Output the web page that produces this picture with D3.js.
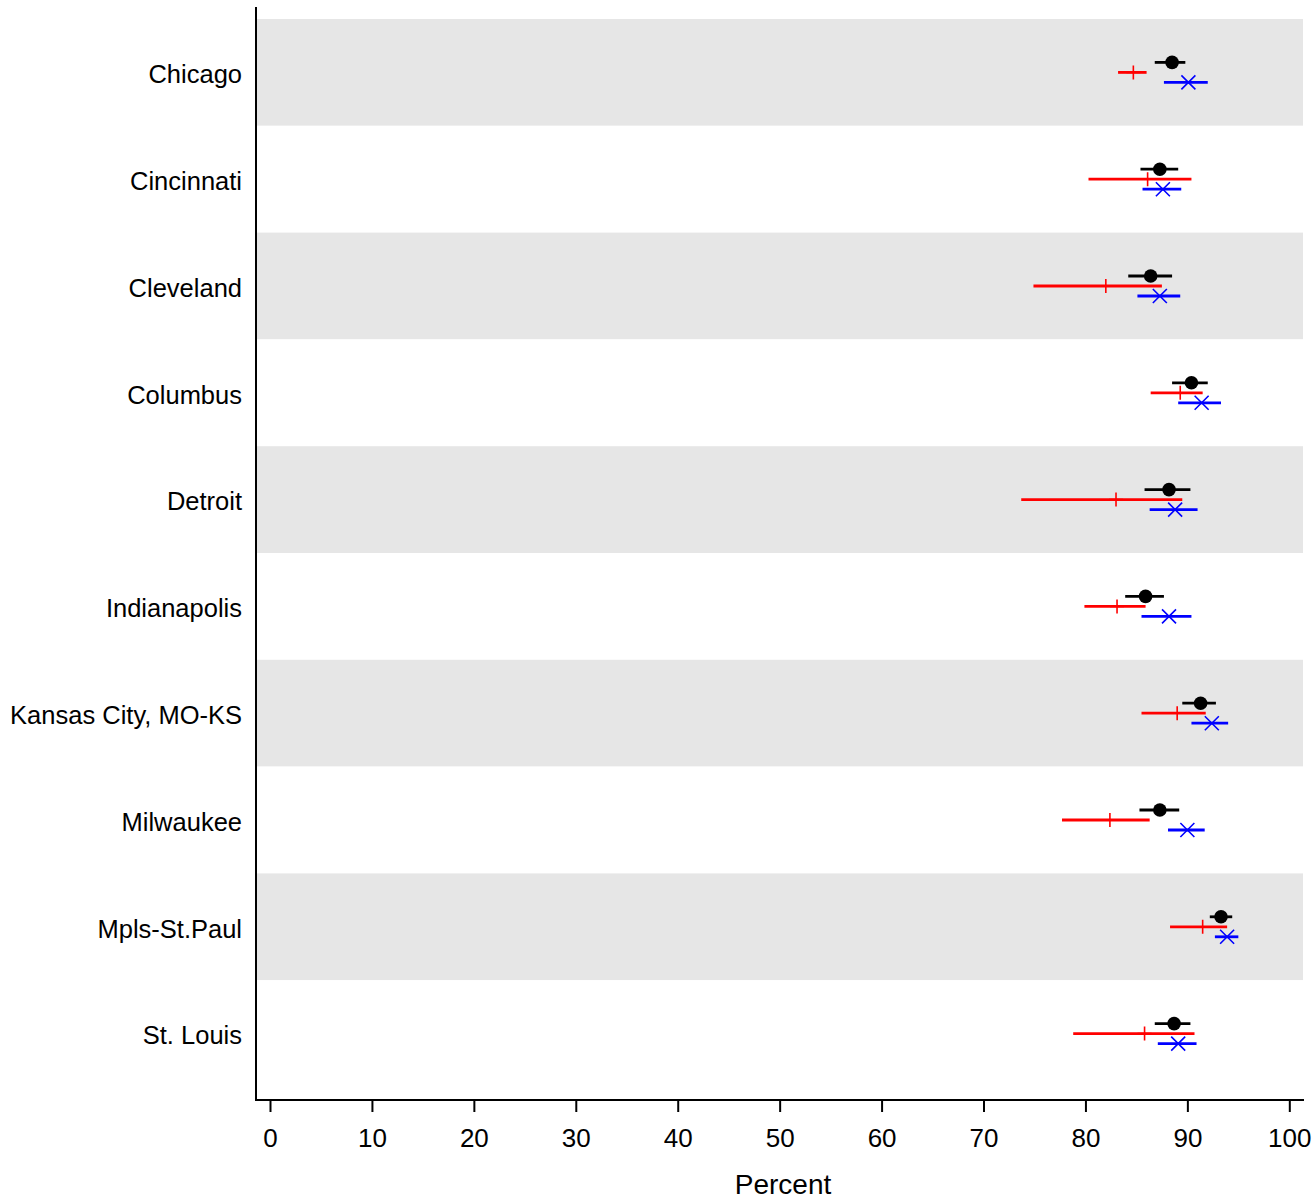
<!DOCTYPE html>
<html>
<head>
<meta charset="utf-8">
<script src="https://cdn.jsdelivr.net/npm/d3@7"></script>
<style>
  html, body { margin: 0; padding: 0; background: #fff; }
  svg { display: block; }
  text { font-family: "Liberation Sans", Arial, Helvetica, sans-serif; fill: #000; }
</style>
</head>
<body>
<svg id="chart" width="1316" height="1201"></svg>
<script>
const categories = ["Chicago","Cincinnati","Cleveland","Columbus","Detroit","Indianapolis","Kansas City, MO-KS","Milwaukee","Mpls-St.Paul","St. Louis"];

// black series: estimate, lower, upper
const blackEst = [88.5, 87.3, 86.4, 90.4, 88.2, 85.9, 91.3, 87.3, 93.3, 88.7];
const blackLo  = [86.8, 85.4, 84.2, 88.5, 85.8, 83.9, 89.5, 85.3, 92.2, 86.8];
const blackHi  = [89.8, 89.1, 88.5, 92.0, 90.3, 87.7, 92.8, 89.2, 94.4, 90.3];

// red series
const redEst = [84.7, 86.1, 82.0, 89.3, 83.0, 83.1, 89.0, 82.4, 91.5, 85.8];
const redLo  = [83.2, 80.3, 74.9, 86.4, 73.7, 79.9, 85.5, 77.7, 88.3, 78.8];
const redHi  = [86.0, 90.4, 87.5, 91.5, 89.5, 85.9, 91.8, 86.3, 93.9, 90.7];

// blue series
const blueEst = [90.1, 87.6, 87.3, 91.4, 88.8, 88.2, 92.4, 90.0, 93.9, 89.1];
const blueLo  = [87.7, 85.6, 85.1, 89.1, 86.3, 85.5, 90.4, 88.1, 92.7, 87.1];
const blueHi  = [92.0, 89.4, 89.3, 93.3, 91.0, 90.4, 94.0, 91.7, 95.0, 90.9];

const xTicks = [0,10,20,30,40,50,60,70,80,90,100];
const xTitle = "Percent";

const svg = d3.select("#chart");

const axisX = 256, plotRight = 1303, plotTop = 19, plotBottom = 1087, axisY = 1100;

const x = d3.scaleLinear().domain([0, 100]).range([270, 1289.3]);
const y = d3.scaleBand().domain(categories).range([plotTop, plotBottom]).paddingInner(0).paddingOuter(0);

// alternating bands
svg.append("g").selectAll("rect")
  .data(categories)
  .join("rect")
  .attr("x", axisX + 1)
  .attr("y", d => y(d))
  .attr("width", plotRight - axisX - 1)
  .attr("height", y.bandwidth())
  .attr("fill", (d, i) => i % 2 === 0 ? "#e6e6e6" : "#ffffff");

// series data
const series = [
  {name: "black", est: blackEst, lo: blackLo, hi: blackHi, color: "#000000", off: -10, marker: "dot"},
  {name: "red", est: redEst, lo: redLo, hi: redHi, color: "#ff0000", off: 0, marker: "plus"},
  {name: "blue", est: blueEst, lo: blueLo, hi: blueHi, color: "#0000ff", off: 10, marker: "x"}
];

const cy = (i, off) => y(categories[i]) + y.bandwidth() / 2 + off;

series.forEach(s => {
  const g = svg.append("g");
  const rows = categories.map((c, i) => ({i, est: s.est[i], lo: s.lo[i], hi: s.hi[i]}));
  g.selectAll("line.ci").data(rows).join("line")
    .attr("class", "ci")
    .attr("x1", d => x(d.lo)).attr("x2", d => x(d.hi))
    .attr("y1", d => cy(d.i, s.off)).attr("y2", d => cy(d.i, s.off))
    .attr("stroke", s.color).attr("stroke-width", 2.8);
  if (s.marker === "dot") {
    g.selectAll("circle").data(rows).join("circle")
      .attr("cx", d => x(d.est)).attr("cy", d => cy(d.i, s.off))
      .attr("r", 6.8).attr("fill", s.color);
  } else if (s.marker === "plus") {
    g.selectAll("path").data(rows).join("path")
      .attr("d", d => {
        const px = x(d.est), py = cy(d.i, s.off);
        return `M${px},${py - 7}L${px},${py + 7}M${px - 7},${py}L${px + 7},${py}`;
      })
      .attr("stroke", s.color).attr("stroke-width", 1.6).attr("fill", "none");
  } else {
    g.selectAll("path").data(rows).join("path")
      .attr("d", d => {
        const px = x(d.est), py = cy(d.i, s.off), h = 7;
        return `M${px - h},${py - h}L${px + h},${py + h}M${px - h},${py + h}L${px + h},${py - h}`;
      })
      .attr("stroke", s.color).attr("stroke-width", 1.6).attr("fill", "none");
  }
});

// y axis labels
const yAxis = svg.append("g")
  .attr("transform", `translate(${axisX},0)`)
  .call(d3.axisLeft(y).tickSize(0).tickPadding(14));
yAxis.select(".domain").remove();
yAxis.selectAll("text").style("font-size", "25.5px").attr("font-family", null).attr("dy", "0.42em");

// x axis ticks
const xAxis = svg.append("g")
  .attr("transform", `translate(0,${axisY})`)
  .call(d3.axisBottom(x).tickValues(xTicks).tickSize(12).tickPadding(17).tickSizeOuter(0));
xAxis.select(".domain").remove();
xAxis.selectAll(".tick line").attr("stroke", "#000").attr("stroke-width", 2);
xAxis.selectAll("text").style("font-size", "26px").attr("font-family", null);

// axis lines
svg.append("line")
  .attr("x1", axisX).attr("x2", axisX).attr("y1", 7).attr("y2", axisY + 1)
  .attr("stroke", "#000").attr("stroke-width", 2);
svg.append("line")
  .attr("x1", axisX - 1).attr("x2", plotRight + 1).attr("y1", axisY).attr("y2", axisY)
  .attr("stroke", "#000").attr("stroke-width", 2);

// x title
svg.append("text")
  .attr("x", 783).attr("y", 1194)
  .attr("text-anchor", "middle")
  .style("font-size", "28px")
  .text(xTitle);
</script>
</body>
</html>
